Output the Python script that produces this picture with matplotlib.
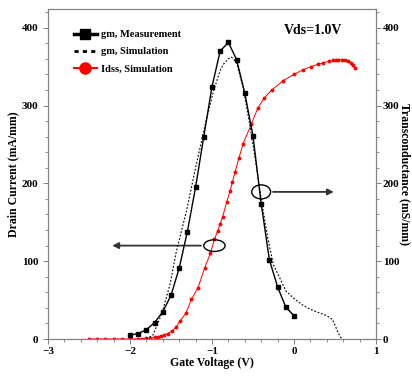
import matplotlib
matplotlib.use("Agg")
import matplotlib.pyplot as plt
from matplotlib.patches import Ellipse
from matplotlib.ticker import MultipleLocator

plt.rcParams['font.family'] = ['Liberation Serif', 'DejaVu Serif']
plt.rcParams['font.weight'] = 'bold'

# gm, measurement (mS/mm)
vg_meas = [-2.0, -1.9, -1.8, -1.7, -1.6, -1.5, -1.4, -1.3, -1.2, -1.1, -1.0,
           -0.9, -0.8, -0.7, -0.6, -0.5, -0.4, -0.3, -0.2, -0.1, 0.0]
gm_meas = [5, 7, 12, 21, 35, 56, 91, 138, 195, 260, 324,
           370, 381, 359, 316, 261, 174, 102, 67, 41, 30]

# gm, simulation (mS/mm)
vg_sim = [-1.80, -1.72, -1.61, -1.51, -1.44, -1.31, -1.20, -1.07, -0.98, -0.90,
          -0.86, -0.80, -0.76, -0.70, -0.62, -0.54, -0.47, -0.40, -0.32, -0.25,
          -0.18, -0.10, 0.0, 0.10, 0.20, 0.30, 0.40, 0.47, 0.50, 0.53, 0.57, 0.60]
gm_sim = [0, 5, 33, 71, 110, 165, 220, 281, 319, 345,
          353, 360, 362, 355, 323, 276, 230, 180, 130, 95,
          80, 62, 52, 44, 38, 34, 30, 25, 18, 10, 2, 0]

# Idss, simulation (mA/mm)
vg_id = [-2.5, -2.4, -2.3, -2.2, -2.1, -2.0, -1.9, -1.85, -1.8, -1.75, -1.7,
         -1.66, -1.62, -1.58, -1.54, -1.49, -1.44, -1.39, -1.32, -1.25, -1.17,
         -1.09, -1.02, -0.97, -0.93, -0.90, -0.87, -0.82, -0.78, -0.75, -0.72,
         -0.67, -0.62, -0.52, -0.44, -0.36, -0.27, -0.13, 0.0, 0.11, 0.21,
         0.29, 0.36, 0.43, 0.48, 0.51, 0.54, 0.58, 0.62, 0.66, 0.70, 0.72, 0.74]
id_sim = [0, 0, 0, 0, 0, 0, 0.3, 0.6, 1, 1.5, 2,
          3, 4, 5.5, 7, 10, 15, 23, 33, 51, 66,
          91, 110, 128, 139, 148, 157, 176, 190, 202, 214,
          233, 251, 276, 297, 310, 320, 332, 340, 346, 350,
          353, 355, 357, 358, 359, 359, 359, 358, 357, 355, 352, 348]

fig = plt.figure(figsize=(4.12, 3.76), dpi=100)
ax = fig.add_axes([0.1165, 0.0984, 0.796, 0.8777])
ax2 = ax.twinx()

l3, = ax.plot(vg_id, id_sim, color='red', lw=0.7, marker='o', ms=1.8, label='Idss, Simulation')
l1, = ax2.plot(vg_meas, gm_meas, color='black', lw=1.0, marker='s', ms=2.4, label='gm, Measurement')
l2, = ax2.plot(vg_sim, gm_sim, color='black', lw=0.8, ls=(0, (1.6, 1.6)), label='gm, Simulation')

for a in (ax, ax2):
    a.set_xlim(-3, 1)
    a.set_ylim(0, 424)
    a.yaxis.set_major_locator(MultipleLocator(100))
    a.yaxis.set_minor_locator(MultipleLocator(20))
    for s in a.spines.values():
        s.set_color('#808080')
        s.set_linewidth(0.8)
    a.tick_params(which='both', colors='#808080', labelcolor='black', labelsize=8, direction='out')
    a.tick_params(which='major', length=3.5, width=0.7)
    a.tick_params(which='minor', length=2, width=0.6)

ax.xaxis.set_major_locator(MultipleLocator(1))
ax.xaxis.set_minor_locator(MultipleLocator(0.2))
ax.tick_params(axis='x', pad=2)
ax2.tick_params(axis='y', pad=1.5)

ax.set_xlabel('Gate Voltage (V)', fontsize=8.5, fontweight='bold', labelpad=1)
ax.set_ylabel('Drain Current (mA/mm)', fontsize=8.5, fontweight='bold', labelpad=2)
ax2.set_ylabel('Transconductance (mS/mm)', fontsize=8.5, fontweight='bold', rotation=270, labelpad=8)

ax.text(0.72, 0.925, 'Vds=1.0V', transform=ax.transAxes, fontsize=10, fontweight='bold')

# circles + arrows pointing to the axis each curve uses
ax.add_patch(Ellipse((-0.97, 120), 0.26, 15, fill=False, ec='black', lw=1.0, zorder=5))
ax.annotate('', xy=(-2.25, 120), xytext=(-1.1, 120),
            arrowprops=dict(arrowstyle='-|>', color='#333333', lw=1.3, mutation_scale=9))
ax.add_patch(Ellipse((-0.40, 189), 0.23, 18, fill=False, ec='black', lw=1.0, zorder=5))
ax.annotate('', xy=(0.52, 189), xytext=(-0.29, 189),
            arrowprops=dict(arrowstyle='-|>', color='#333333', lw=1.3, mutation_scale=9))

leg = ax.legend(handles=[l1, l2, l3], loc='upper left', bbox_to_anchor=(0.05, 0.965),
                frameon=False, handlelength=2.2, handletextpad=0.4,
                labelspacing=0.75, prop={'weight': 'bold', 'size': 7.5})
hs = leg.legend_handles
hs[0].set_markersize(7)
hs[0].set_linewidth(2.5)
hs[1].set_linewidth(2.0)
hs[1].set_linestyle((0, (1.5, 1.5)))
hs[2].set_markersize(8)
hs[2].set_linewidth(1.5)

fig.savefig('out.png', dpi=100)
